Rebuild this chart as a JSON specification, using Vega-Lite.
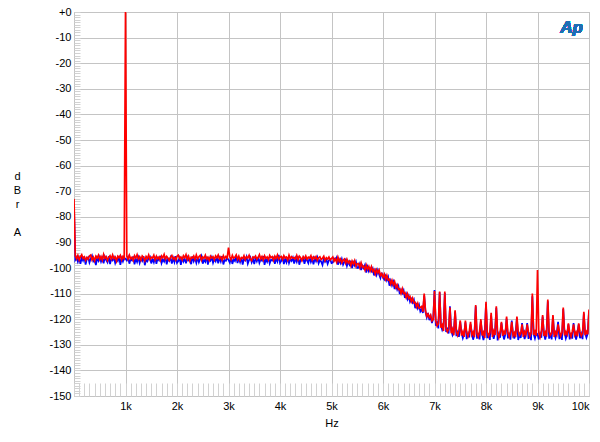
{
"$schema": "https://vega.github.io/schema/vega-lite/v6.json",
"width": 515,
"height": 384,
"autosize": {"type": "none"},
"padding": {"left": 74, "top": 12, "right": 11, "bottom": 46},
"background": "white",
"config": {
  "view": {"stroke": "#a8a8a8", "strokeWidth": 1},
  "font": "Liberation Sans",
  "axis": {"labelFont": "Liberation Sans", "titleFont": "Liberation Sans", "labelColor": "#000", "titleColor": "#000", "labelFontSize": 11, "titleFontSize": 11, "titleFontWeight": "normal", "domain": false}
},
"data": {"values": [
{"f":0,"b":-76.0,"r":-73.0},
{"f":25,"b":-96.8,"r":-95.2},{"f":50,"b":-95.9,"r":-96.4},{"f":75,"b":-97.6,"r":-95.1},{"f":100,"b":-96.2,"r":-96.9},{"f":125,"b":-98.4,"r":-95.6},{"f":150,"b":-96.0,"r":-94.8},{"f":175,"b":-97.1,"r":-96.3},{"f":200,"b":-95.5,"r":-95.7},{"f":225,"b":-98.7,"r":-97.0},{"f":250,"b":-96.4,"r":-95.9},
{"f":275,"b":-95.8,"r":-96.6},{"f":300,"b":-97.9,"r":-95.3},{"f":325,"b":-96.3,"r":-94.9},{"f":350,"b":-95.2,"r":-96.8},{"f":375,"b":-97.4,"r":-95.8},{"f":400,"b":-96.7,"r":-97.2},{"f":425,"b":-98.9,"r":-95.4},{"f":450,"b":-96.0,"r":-96.1},{"f":475,"b":-97.2,"r":-95.0},{"f":500,"b":-95.7,"r":-96.7},
{"f":525,"b":-97.5,"r":-95.5},{"f":550,"b":-96.1,"r":-96.9},{"f":575,"b":-98.2,"r":-94.7},{"f":600,"b":-95.6,"r":-96.2},{"f":625,"b":-96.9,"r":-95.6},{"f":650,"b":-97.8,"r":-97.1},{"f":675,"b":-95.4,"r":-95.9},{"f":700,"b":-98.5,"r":-95.2},{"f":725,"b":-96.3,"r":-96.5},{"f":750,"b":-97.0,"r":-94.9},
{"f":775,"b":-95.9,"r":-96.3},{"f":800,"b":-98.1,"r":-95.7},{"f":825,"b":-96.6,"r":-97.3},{"f":850,"b":-97.3,"r":-95.4},{"f":875,"b":-95.3,"r":-96.0},{"f":900,"b":-98.8,"r":-95.1},{"f":925,"b":-96.2,"r":-96.8},{"f":950,"b":-97.5,"r":-95.5},{"f":975,"b":-96.0,"r":-96.2},{"f":1000,"b":-96.4,"r":0.0},
{"f":1025,"b":-97.1,"r":-95.3},{"f":1050,"b":-95.8,"r":-96.6},{"f":1075,"b":-98.3,"r":-95.0},{"f":1100,"b":-96.5,"r":-96.4},{"f":1125,"b":-97.0,"r":-95.8},{"f":1150,"b":-95.5,"r":-97.0},{"f":1175,"b":-98.6,"r":-95.2},{"f":1200,"b":-96.4,"r":-96.1},{"f":1225,"b":-97.7,"r":-94.8},{"f":1250,"b":-95.9,"r":-96.5},
{"f":1275,"b":-98.0,"r":-95.6},{"f":1300,"b":-96.3,"r":-96.9},{"f":1325,"b":-97.2,"r":-95.3},{"f":1350,"b":-95.4,"r":-95.9},{"f":1375,"b":-98.9,"r":-97.2},{"f":1400,"b":-96.8,"r":-95.5},{"f":1425,"b":-97.4,"r":-96.3},{"f":1450,"b":-96.1,"r":-94.9},{"f":1475,"b":-95.6,"r":-96.7},{"f":1500,"b":-98.2,"r":-95.8},
{"f":1525,"b":-96.5,"r":-96.1},{"f":1550,"b":-97.8,"r":-95.0},{"f":1575,"b":-95.7,"r":-96.8},{"f":1600,"b":-98.4,"r":-95.4},{"f":1625,"b":-96.2,"r":-96.4},{"f":1650,"b":-97.0,"r":-95.7},{"f":1675,"b":-95.3,"r":-97.0},{"f":1700,"b":-98.1,"r":-95.3},{"f":1725,"b":-96.7,"r":-96.0},{"f":1750,"b":-97.5,"r":-94.7},
{"f":1775,"b":-95.6,"r":-96.6},{"f":1800,"b":-98.6,"r":-95.5},{"f":1825,"b":-96.4,"r":-96.2},{"f":1850,"b":-97.2,"r":-97.1},{"f":1875,"b":-95.9,"r":-95.8},{"f":1900,"b":-98.3,"r":-95.1},{"f":1925,"b":-96.1,"r":-96.5},{"f":1950,"b":-97.7,"r":-95.9},{"f":1975,"b":-95.4,"r":-96.9},{"f":2000,"b":-98.0,"r":-95.4},
{"f":2025,"b":-97.3,"r":-95.0},{"f":2050,"b":-96.0,"r":-96.3},{"f":2075,"b":-98.8,"r":-95.7},{"f":2100,"b":-95.7,"r":-96.8},{"f":2125,"b":-97.5,"r":-95.2},{"f":2150,"b":-96.4,"r":-96.0},{"f":2175,"b":-98.2,"r":-94.8},{"f":2200,"b":-95.8,"r":-96.6},{"f":2225,"b":-97.0,"r":-95.4},{"f":2250,"b":-96.6,"r":-97.2},
{"f":2275,"b":-98.5,"r":-95.8},{"f":2300,"b":-95.5,"r":-96.1},{"f":2325,"b":-97.4,"r":-95.3},{"f":2350,"b":-96.2,"r":-96.7},{"f":2375,"b":-98.0,"r":-94.9},{"f":2400,"b":-95.9,"r":-96.4},{"f":2425,"b":-97.8,"r":-95.6},{"f":2450,"b":-96.5,"r":-95.1},{"f":2475,"b":-95.3,"r":-96.9},{"f":2500,"b":-98.3,"r":-95.7},
{"f":2525,"b":-96.8,"r":-96.2},{"f":2550,"b":-97.6,"r":-95.0},{"f":2575,"b":-95.6,"r":-96.5},{"f":2600,"b":-98.7,"r":-95.8},{"f":2625,"b":-96.3,"r":-97.0},{"f":2650,"b":-97.1,"r":-95.4},{"f":2675,"b":-95.8,"r":-96.1},{"f":2700,"b":-98.0,"r":-95.6},{"f":2725,"b":-96.5,"r":-96.8},{"f":2750,"b":-97.4,"r":-95.3},
{"f":2775,"b":-95.7,"r":-96.0},{"f":2800,"b":-98.2,"r":-94.9},{"f":2825,"b":-96.1,"r":-96.4},{"f":2850,"b":-97.5,"r":-95.7},{"f":2875,"b":-95.4,"r":-96.9},{"f":2900,"b":-98.6,"r":-95.2},{"f":2925,"b":-96.9,"r":-96.3},{"f":2950,"b":-97.2,"r":-95.5},{"f":2975,"b":-96.0,"r":-96.1},{"f":3000,"b":-96.8,"r":-92.0},
{"f":3025,"b":-97.9,"r":-95.6},{"f":3050,"b":-95.8,"r":-96.7},{"f":3075,"b":-98.4,"r":-95.1},{"f":3100,"b":-96.6,"r":-96.2},{"f":3125,"b":-97.3,"r":-95.8},{"f":3150,"b":-95.5,"r":-94.9},{"f":3175,"b":-98.1,"r":-96.6},{"f":3200,"b":-96.2,"r":-95.4},{"f":3225,"b":-97.7,"r":-97.0},{"f":3250,"b":-96.0,"r":-95.9},
{"f":3275,"b":-98.7,"r":-96.3},{"f":3300,"b":-96.4,"r":-95.2},{"f":3325,"b":-97.0,"r":-96.8},{"f":3350,"b":-95.6,"r":-95.6},{"f":3375,"b":-98.3,"r":-96.1},{"f":3400,"b":-96.9,"r":-95.0},{"f":3425,"b":-95.9,"r":-96.5},{"f":3450,"b":-97.8,"r":-97.1},{"f":3475,"b":-96.3,"r":-95.7},{"f":3500,"b":-98.5,"r":-96.0},
{"f":3525,"b":-96.1,"r":-95.3},{"f":3550,"b":-97.4,"r":-96.6},{"f":3575,"b":-95.7,"r":-95.9},{"f":3600,"b":-98.0,"r":-94.8},{"f":3625,"b":-96.6,"r":-96.4},{"f":3650,"b":-97.2,"r":-95.5},{"f":3675,"b":-95.4,"r":-96.9},{"f":3700,"b":-98.8,"r":-95.2},{"f":3725,"b":-96.5,"r":-96.2},{"f":3750,"b":-97.6,"r":-95.7},
{"f":3775,"b":-95.9,"r":-96.8},{"f":3800,"b":-98.2,"r":-95.1},{"f":3825,"b":-96.8,"r":-96.0},{"f":3850,"b":-97.1,"r":-95.6},{"f":3875,"b":-95.6,"r":-97.0},{"f":3900,"b":-98.4,"r":-95.4},{"f":3925,"b":-96.3,"r":-96.3},{"f":3950,"b":-97.5,"r":-94.9},{"f":3975,"b":-94.9,"r":-96.5},{"f":4000,"b":-98.0,"r":-95.8},
{"f":4025,"b":-97.2,"r":-95.5},{"f":4050,"b":-95.7,"r":-96.7},{"f":4075,"b":-98.5,"r":-95.2},{"f":4100,"b":-96.4,"r":-96.1},{"f":4125,"b":-97.8,"r":-95.7},{"f":4150,"b":-95.9,"r":-96.9},{"f":4175,"b":-98.1,"r":-95.0},{"f":4200,"b":-96.6,"r":-96.4},{"f":4225,"b":-97.3,"r":-95.6},{"f":4250,"b":-96.0,"r":-96.2},
{"f":4275,"b":-98.3,"r":-95.9},{"f":4300,"b":-96.2,"r":-96.5},{"f":4325,"b":-97.6,"r":-95.1},{"f":4350,"b":-95.5,"r":-96.8},{"f":4375,"b":-98.7,"r":-95.4},{"f":4400,"b":-96.8,"r":-96.0},{"f":4425,"b":-97.1,"r":-97.1},{"f":4450,"b":-96.0,"r":-95.6},{"f":4475,"b":-98.4,"r":-96.3},{"f":4500,"b":-96.5,"r":-95.3},
{"f":4525,"b":-97.0,"r":-96.6},{"f":4550,"b":-98.1,"r":-95.8},{"f":4575,"b":-95.8,"r":-96.1},{"f":4600,"b":-97.7,"r":-95.2},{"f":4625,"b":-96.4,"r":-96.9},{"f":4650,"b":-98.6,"r":-95.7},{"f":4675,"b":-96.2,"r":-96.4},{"f":4700,"b":-97.4,"r":-95.5},{"f":4725,"b":-95.9,"r":-97.0},{"f":4750,"b":-98.2,"r":-96.0},
{"f":4775,"b":-96.9,"r":-95.6},{"f":4800,"b":-97.5,"r":-96.7},{"f":4825,"b":-98.8,"r":-96.2},{"f":4850,"b":-96.3,"r":-95.4},{"f":4875,"b":-97.6,"r":-97.1},{"f":4900,"b":-96.7,"r":-96.0},{"f":4925,"b":-98.4,"r":-96.5},{"f":4950,"b":-97.0,"r":-95.7},{"f":4975,"b":-96.6,"r":-96.9},{"f":5000,"b":-98.1,"r":-96.3},
{"f":5025,"b":-97.9,"r":-95.7},{"f":5050,"b":-96.3,"r":-97.3},{"f":5075,"b":-96.9,"r":-96.4},{"f":5100,"b":-95.9,"r":-97.8},{"f":5125,"b":-98.7,"r":-95.8},{"f":5150,"b":-96.8,"r":-97.4},{"f":5175,"b":-98.1,"r":-96.5},{"f":5200,"b":-96.5,"r":-98.0},{"f":5225,"b":-98.7,"r":-97.0},{"f":5250,"b":-97.6,"r":-96.5},
{"f":5275,"b":-96.8,"r":-98.1},{"f":5300,"b":-99.2,"r":-96.6},{"f":5325,"b":-97.6,"r":-98.0},{"f":5350,"b":-98.7,"r":-97.3},{"f":5375,"b":-97.2,"r":-99.1},{"f":5400,"b":-100.0,"r":-97.3},{"f":5425,"b":-97.9,"r":-98.4},{"f":5450,"b":-99.0,"r":-97.1},{"f":5475,"b":-97.6,"r":-99.3},{"f":5500,"b":-100.0,"r":-98.3},
{"f":5525,"b":-99.9,"r":-98.2},{"f":5550,"b":-98.4,"r":-99.8},{"f":5575,"b":-100.8,"r":-98.0},{"f":5600,"b":-99.1,"r":-99.7},{"f":5625,"b":-100.1,"r":-99.3},{"f":5650,"b":-98.8,"r":-100.8},{"f":5675,"b":-101.8,"r":-98.9},{"f":5700,"b":-99.6,"r":-100.5},{"f":5725,"b":-101.3,"r":-99.4},{"f":5750,"b":-100.2,"r":-101.1},
{"f":5775,"b":-101.3,"r":-99.5},{"f":5800,"b":-100.2,"r":-101.3},{"f":5825,"b":-102.9,"r":-100.6},{"f":5850,"b":-101.0,"r":-102.4},{"f":5875,"b":-102.7,"r":-100.7},{"f":5900,"b":-100.8,"r":-101.9},{"f":5925,"b":-102.5,"r":-100.8},{"f":5950,"b":-103.9,"r":-102.9},{"f":5975,"b":-101.8,"r":-102.2},{"f":6000,"b":-103.7,"r":-103.6},
{"f":6025,"b":-104.5,"r":-102.4},{"f":6050,"b":-103.1,"r":-104.4},{"f":6075,"b":-104.8,"r":-102.9},{"f":6100,"b":-103.5,"r":-104.7},{"f":6125,"b":-106.9,"r":-104.4},{"f":6150,"b":-105.0,"r":-106.3},{"f":6175,"b":-106.8,"r":-104.8},{"f":6200,"b":-105.4,"r":-106.5},{"f":6225,"b":-108.2,"r":-105.3},{"f":6250,"b":-106.6,"r":-107.6},
{"f":6275,"b":-108.4,"r":-106.6},{"f":6300,"b":-107.1,"r":-108.4},{"f":6325,"b":-110.2,"r":-108.1},{"f":6350,"b":-108.6,"r":-109.9},{"f":6375,"b":-109.9,"r":-108.1},{"f":6400,"b":-108.7,"r":-109.9},{"f":6425,"b":-111.7,"r":-109.6},{"f":6450,"b":-110.2,"r":-111.5},{"f":6475,"b":-112.2,"r":-110.1},{"f":6500,"b":-110.9,"r":-111.9},
{"f":6525,"b":-113.2,"r":-111.2},{"f":6550,"b":-112.1,"r":-113.1},{"f":6575,"b":-113.5,"r":-111.8},{"f":6600,"b":-112.4,"r":-113.6},{"f":6625,"b":-115.7,"r":-113.4},{"f":6650,"b":-113.7,"r":-115.2},{"f":6675,"b":-115.7,"r":-113.8},{"f":6700,"b":-114.4,"r":-115.7},{"f":6725,"b":-117.0,"r":-115.4},{"f":6750,"b":-116.2,"r":-115.0},
{"f":6775,"b":-117.6,"r":-117.1},{"f":6800,"b":-110.8,"r":-110.0},{"f":6825,"b":-117.1,"r":-116.7},{"f":6850,"b":-119.3,"r":-118.9},{"f":6875,"b":-117.6,"r":-118.0},{"f":6900,"b":-120.4,"r":-119.3},{"f":6925,"b":-118.9,"r":-118.4},{"f":6950,"b":-121.5,"r":-120.7},{"f":6975,"b":-119.8,"r":-120.1},{"f":7000,"b":-108.6,"r":-109.0},
{"f":7025,"b":-122.5,"r":-120.7},{"f":7050,"b":-121.4,"r":-122.6},{"f":7075,"b":-123.6,"r":-121.8},{"f":7100,"b":-109.5,"r":-109.2},{"f":7125,"b":-122.4,"r":-123.3},{"f":7150,"b":-124.2,"r":-122.2},{"f":7175,"b":-123.0,"r":-124.6},{"f":7200,"b":-109.8,"r":-109.2},{"f":7225,"b":-125.0,"r":-123.6},{"f":7250,"b":-123.9,"r":-124.9},
{"f":7275,"b":-125.6,"r":-123.8},{"f":7300,"b":-115.0,"r":-115.4},{"f":7325,"b":-124.4,"r":-125.5},{"f":7350,"b":-126.2,"r":-123.9},{"f":7375,"b":-125.0,"r":-126.3},{"f":7400,"b":-117.0,"r":-116.5},{"f":7425,"b":-126.6,"r":-124.8},{"f":7450,"b":-125.1,"r":-126.3},{"f":7475,"b":-126.9,"r":-124.4},{"f":7500,"b":-121.0,"r":-120.5},
{"f":7525,"b":-125.3,"r":-126.4},{"f":7550,"b":-127.4,"r":-124.9},{"f":7575,"b":-125.8,"r":-126.9},{"f":7600,"b":-121.2,"r":-120.5},
{"f":7625,"b":-127.8,"r":-125.2},{"f":7650,"b":-125.6,"r":-126.7},{"f":7675,"b":-127.1,"r":-124.8},{"f":7700,"b":-122.0,"r":-121.0},
{"f":7725,"b":-125.2,"r":-126.1},{"f":7750,"b":-128.0,"r":-125.0},{"f":7775,"b":-125.9,"r":-127.0},{"f":7800,"b":-115.0,"r":-114.5},
{"f":7825,"b":-127.6,"r":-125.5},{"f":7850,"b":-125.4,"r":-126.8},{"f":7875,"b":-127.9,"r":-124.7},{"f":7900,"b":-120.8,"r":-120.0},
{"f":7925,"b":-125.7,"r":-126.3},{"f":7950,"b":-128.2,"r":-125.1},{"f":7975,"b":-125.9,"r":-127.3},{"f":8000,"b":-114.0,"r":-113.2},
{"f":8025,"b":-127.4,"r":-124.9},{"f":8050,"b":-125.5,"r":-126.6},{"f":8075,"b":-128.1,"r":-125.3},{"f":8100,"b":-118.5,"r":-117.5},
{"f":8125,"b":-125.6,"r":-126.9},{"f":8150,"b":-127.7,"r":-124.6},{"f":8175,"b":-125.2,"r":-126.2},{"f":8200,"b":-115.5,"r":-115.0},
{"f":8225,"b":-128.3,"r":-125.4},{"f":8250,"b":-125.8,"r":-127.1},{"f":8275,"b":-127.2,"r":-125.0},{"f":8300,"b":-121.5,"r":-121.0},
{"f":8325,"b":-125.4,"r":-126.5},{"f":8350,"b":-127.9,"r":-124.8},{"f":8375,"b":-125.9,"r":-126.0},{"f":8400,"b":-119.8,"r":-119.0},
{"f":8425,"b":-127.5,"r":-125.2},{"f":8450,"b":-125.3,"r":-126.8},{"f":8475,"b":-128.0,"r":-124.9},{"f":8500,"b":-120.5,"r":-121.0},
{"f":8525,"b":-125.7,"r":-126.4},{"f":8550,"b":-127.6,"r":-125.3},{"f":8575,"b":-125.5,"r":-127.0},{"f":8600,"b":-119.5,"r":-119.0},
{"f":8625,"b":-128.1,"r":-124.7},{"f":8650,"b":-125.9,"r":-126.3},{"f":8675,"b":-127.3,"r":-125.6},{"f":8700,"b":-121.5,"r":-122.0},
{"f":8725,"b":-125.4,"r":-126.9},{"f":8750,"b":-127.8,"r":-124.9},{"f":8775,"b":-125.6,"r":-126.1},{"f":8800,"b":-121.5,"r":-122.0},
{"f":8825,"b":-127.7,"r":-125.0},{"f":8850,"b":-125.3,"r":-126.7},{"f":8875,"b":-128.2,"r":-125.4},{"f":8900,"b":-111.0,"r":-110.0},
{"f":8925,"b":-125.8,"r":-126.2},{"f":8950,"b":-127.5,"r":-124.8},{"f":8975,"b":-125.4,"r":-126.6},{"f":9000,"b":-125.9,"r":-100.8},
{"f":9025,"b":-127.9,"r":-125.3},{"f":9050,"b":-125.6,"r":-127.0},{"f":9075,"b":-127.2,"r":-124.9},{"f":9100,"b":-119.0,"r":-118.4},
{"f":9125,"b":-125.5,"r":-126.5},{"f":9150,"b":-128.0,"r":-125.1},{"f":9175,"b":-125.7,"r":-126.8},{"f":9200,"b":-113.0,"r":-112.3},
{"f":9225,"b":-127.6,"r":-124.8},{"f":9250,"b":-125.4,"r":-126.3},{"f":9275,"b":-127.9,"r":-125.5},{"f":9300,"b":-119.0,"r":-118.4},
{"f":9325,"b":-125.6,"r":-126.9},{"f":9350,"b":-127.3,"r":-125.0},{"f":9375,"b":-125.2,"r":-126.1},{"f":9400,"b":-121.0,"r":-122.0},
{"f":9425,"b":-127.8,"r":-124.7},{"f":9450,"b":-125.5,"r":-126.6},{"f":9475,"b":-128.1,"r":-125.2},{"f":9500,"b":-116.0,"r":-115.4},
{"f":9525,"b":-125.3,"r":-126.4},{"f":9550,"b":-127.5,"r":-124.9},{"f":9575,"b":-125.8,"r":-126.0},{"f":9600,"b":-122.0,"r":-121.6},
{"f":9625,"b":-127.9,"r":-125.3},{"f":9650,"b":-125.4,"r":-126.8},{"f":9675,"b":-127.6,"r":-124.8},{"f":9700,"b":-121.5,"r":-122.0},
{"f":9725,"b":-125.6,"r":-126.2},{"f":9750,"b":-128.0,"r":-125.0},{"f":9775,"b":-125.3,"r":-126.7},{"f":9800,"b":-122.0,"r":-121.6},
{"f":9825,"b":-127.4,"r":-124.9},{"f":9850,"b":-125.7,"r":-126.5},{"f":9875,"b":-127.8,"r":-125.4},{"f":9900,"b":-117.8,"r":-117.1},
{"f":9925,"b":-125.5,"r":-126.3},{"f":9950,"b":-127.2,"r":-124.8},{"f":9975,"b":-125.6,"r":-125.9},{"f":10000,"b":-117.0,"r":-116.2}
]},
"layer": [
  {
    "mark": {"type": "line", "color": "#0000ff", "strokeWidth": 1.7, "clip": true},
    "encoding": {
      "x": {"field": "f", "type": "quantitative", "title": "Hz",
        "scale": {"domain": [0, 10000], "nice": false, "zero": false},
        "axis": {
          "values": [0,100,200,300,400,500,600,700,800,900,1000,1100,1200,1300,1400,1500,1600,1700,1800,1900,2000,2100,2200,2300,2400,2500,2600,2700,2800,2900,3000,3100,3200,3300,3400,3500,3600,3700,3800,3900,4000,4100,4200,4300,4400,4500,4600,4700,4800,4900,5000,5100,5200,5300,5400,5500,5600,5700,5800,5900,6000,6100,6200,6300,6400,6500,6600,6700,6800,6900,7000,7100,7200,7300,7400,7500,7600,7700,7800,7900,8000,8100,8200,8300,8400,8500,8600,8700,8800,8900,9000,9100,9200,9300,9400,9500,9600,9700,9800,9900,10000],
          "tickCount": 500,
          "labelExpr": "datum.value > 0 && datum.value % 1000 === 0 ? (datum.value / 1000) + 'k' : ''",
          "grid": true,
          "gridColor": "#c4c4c4",
          "gridOpacity": {"condition": {"test": "datum.value % 1000 === 0", "value": 1}, "value": 0},
          "tickSize": -13,
          "tickColor": "#d2d2d2",
          "labelPadding": 17,
          "labelFlush": true,
          "labelOverlap": false,
          "labelBound": false,
          "titlePadding": 6
        }
      },
      "y": {"field": "b", "type": "quantitative", "title": ["d", "B", "r", "\u200b", "A"],
        "scale": {"domain": [-150, 0], "nice": false, "zero": false},
        "axis": {
          "values": [-150,-149,-148,-147,-146,-145,-144,-143,-142,-141,-140,-139,-138,-137,-136,-135,-134,-133,-132,-131,-130,-129,-128,-127,-126,-125,-124,-123,-122,-121,-120,-119,-118,-117,-116,-115,-114,-113,-112,-111,-110,-109,-108,-107,-106,-105,-104,-103,-102,-101,-100,-99,-98,-97,-96,-95,-94,-93,-92,-91,-90,-89,-88,-87,-86,-85,-84,-83,-82,-81,-80,-79,-78,-77,-76,-75,-74,-73,-72,-71,-70,-69,-68,-67,-66,-65,-64,-63,-62,-61,-60,-59,-58,-57,-56,-55,-54,-53,-52,-51,-50,-49,-48,-47,-46,-45,-44,-43,-42,-41,-40,-39,-38,-37,-36,-35,-34,-33,-32,-31,-30,-29,-28,-27,-26,-25,-24,-23,-22,-21,-20,-19,-18,-17,-16,-15,-14,-13,-12,-11,-10,-9,-8,-7,-6,-5,-4,-3,-2,-1,0],
          "tickCount": 500,
          "labelExpr": "datum.value % 10 === 0 ? (datum.value === 0 ? '+0' : '' + datum.value) : ''",
          "grid": true,
          "gridColor": "#c4c4c4",
          "gridOpacity": {"condition": {"test": "datum.value % 10 === 0", "value": 1}, "value": 0},
          "tickSize": -6,
          "tickColor": "#d2d2d2",
          "labelPadding": 9,
          "labelOverlap": false,
          "labelBound": false,
          "titleAngle": 0,
          "titleX": -57,
          "titleY": 164,
          "titleAlign": "center",
          "titleBaseline": "middle",
          "titleLineHeight": 14
        }
      }
    }
  },
  {
    "mark": {"type": "line", "color": "#ff0000", "strokeWidth": 1.7, "clip": true},
    "encoding": {
      "x": {"field": "f", "type": "quantitative", "title": "Hz"},
      "y": {"field": "r", "type": "quantitative", "title": ["d", "B", "r", "\u200b", "A"]}
    }
  },
  {
    "mark": {"type": "text", "text": "Ap", "font": "Liberation Sans", "fontSize": 17, "fontStyle": "italic", "fontWeight": "bold", "color": "#1f6fb4", "align": "center", "baseline": "middle"},
    "encoding": {
      "x": {"datum": 9660, "type": "quantitative"},
      "y": {"datum": -6.3, "type": "quantitative"}
    }
  }
]
}
